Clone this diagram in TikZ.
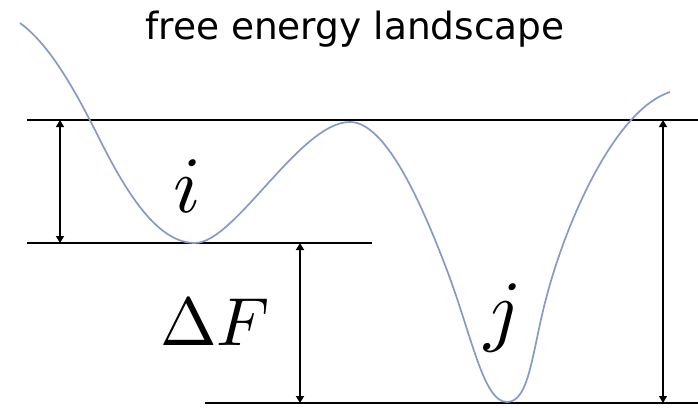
\documentclass[tikz,border=0pt]{standalone}
\usepackage{fontspec}
\newfontfamily\titlefont{DejaVu Sans}
\usetikzlibrary{arrows.meta}
\definecolor{curveblue}{RGB}{134,154,200}

\begin{document}
\begin{tikzpicture}[
  x=1pt, y=-1pt,
  level/.style={line width=1.3pt, black},
  dim/.style={{Triangle[length=7pt,width=8pt]}-{Triangle[length=7pt,width=8pt]}, line width=1.1pt},
  well/.style={line width=1.7pt, curveblue},
  lbl/.style={scale=8, inner sep=0pt, anchor=base},
]
\useasboundingbox (0,0) rectangle (698,407);

%% ---- title ----
\node[font=\titlefont\fontsize{37.5}{42}\selectfont, anchor=base] (title) at (355,39)
  {free energy landscape};

%% ---- energy levels ----
\coordinate (topL) at (27,120);
\coordinate (topR) at (698,120);
\coordinate (midL) at (27,243);
\coordinate (midR) at (372,243);
\coordinate (botL) at (205,403);
\coordinate (botR) at (698,403);
\draw[level] (topL) -- (topR);
\draw[level] (midL) -- (midR);
\draw[level, line width=2pt] (botL) -- (botR);

%% ---- landscape ----
\coordinate (start) at (20,23);
\coordinate (wellI) at (195,243);
\coordinate (barrier) at (350,122);
\coordinate (wellJ) at (507,402);
\coordinate (finish) at (670,92);
\draw[well] (start) .. controls (50,45) and (75,90) .. (100,140)
  .. controls (130,200) and (160,243) .. (wellI)
  .. controls (235,243) and (300,122) .. (barrier)
  .. controls (385,122) and (420,200) .. (445,265)
  .. controls (472,335) and (483,402) .. (wellJ)
  .. controls (530,402) and (532,350) .. (547,295)
  .. controls (567,220) and (615,110) .. (finish);

%% ---- barriers ----
\coordinate (iTop) at (60,120);
\coordinate (iBot) at (60,243);
\coordinate (dTop) at (300,243);
\coordinate (dBot) at (300,403);
\coordinate (jTop) at (663,120);
\coordinate (jBot) at (663,403);
\draw[dim] (iTop) -- (iBot);
\draw[dim, line width=2.4pt] (dTop) -- (dBot);
\draw[dim] (jTop) -- (jBot);

%% ---- labels ----
\node[lbl] (wi) at (187,212) {$i$};
\node[lbl] (wj) at (503,336) {$j$};
\node[lbl, scale=0.85] (dF) at (215,345) {$\Delta F$};

\end{tikzpicture}
\end{document}
